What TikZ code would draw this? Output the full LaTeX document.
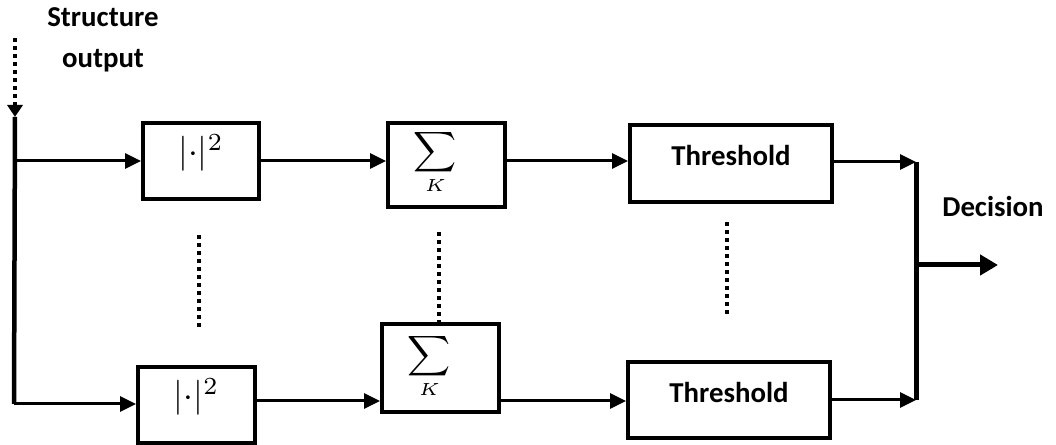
\documentclass[tikz,border=0pt]{standalone}
\usepackage{amsmath}
\usepackage{fontspec}
\setmainfont{Carlito}
\usepackage{tikz}
\usetikzlibrary{arrows.meta, positioning}

\tikzset{
  blk/.style={draw, line width=0.4mm, inner sep=0pt},
  lbl/.style={font=\fontsize{8.2}{10}\selectfont\bfseries, inner sep=0pt},
  sqlbl/.style={font=\fontsize{10}{12}\selectfont, inner sep=0pt},
  sumlbl/.style={font=\fontsize{8.2}{10}\selectfont, inner sep=0pt},
  arr/.style={line width=0.3mm, -{Triangle[length=1.6mm,width=1.5mm]}},
  bigarr/.style={line width=0.5mm, -{Triangle[length=1.8mm,width=2mm]}},
  dots/.style={line width=0.4mm, dash pattern=on 0.4mm off 0.4mm},
}

\begin{document}
\begin{tikzpicture}[x=0.1mm, y=-0.1mm]
\useasboundingbox (0,0) rectangle (1056,445);

% boxes of the upper branch
\node[blk, minimum width=11.6mm, minimum height=7.6mm] (sqA) at (201,161) {};
\node[blk, minimum width=11.7mm, minimum height=8.4mm] (sumA) at (446.5,165) {};
\node[blk, minimum width=20.2mm, minimum height=7.7mm] (thrA) at (731,163.5) {};
% boxes of the lower branch
\node[blk, minimum width=11.7mm, minimum height=7.6mm] (sqB) at (196.5,405) {};
\node[blk, minimum width=11.7mm, minimum height=8.8mm] (sumB) at (440.5,368) {};
\node[blk, minimum width=20.2mm, minimum height=7.6mm] (thrB) at (729,400) {};

% box texts
\node[sqlbl] (sqAt) at ([yshift=0.8mm]sqA.center) {$|{\cdot}|^2$};
\node[sqlbl] (sqBt) at ([yshift=0.8mm]sqB.center) {$|{\cdot}|^2$};
\node[sumlbl] (sumAt) at ([xshift=-1.1mm,yshift=0.3mm]sumA.center) {$\displaystyle\sum_{\scriptscriptstyle K}$};
\node[sumlbl] (sumBt) at ([xshift=-1.1mm,yshift=0.2mm]sumB.center) {$\displaystyle\sum_{\scriptscriptstyle K}$};
\node[lbl] (thrAt) at ([yshift=0.75mm]thrA.center) {Threshold};
\node[lbl] (thrBt) at ([yshift=0.8mm]thrB.center) {Threshold};

% free labels
\node[lbl, align=center, font=\fontsize{8.2}{11.6}\selectfont\bfseries] (src) at (103,40) {Structure\\output};
\node[lbl] (dec) at (993,207) {Decision};

% input and split
\coordinate (inS) at (15,38);
\coordinate (tap) at (15,117);
\coordinate (tapE) at (14,404);
\draw[dots, line width=0.45mm, -{Triangle[length=1.2mm,width=1.5mm]}] (inS) -- (tap);
\draw[line width=0.45mm] (tap) -- (tapE);
\draw[arr] (tap |- sqA.west) -- (sqA.west);
\draw[arr] (tapE) -- (sqB.west |- tapE);

% upper row
\draw[arr] (sqA.east) -- (sumA.west |- sqA.east);
\draw[arr] (sumA.east |- sqA.east) -- (thrA.west |- sqA.east);
\coordinate (busT) at (916,162);
\coordinate (busB) at (916,400);
\draw[arr] (thrA.east |- busT) -- (busT);

% lower row
\coordinate (rowB) at (0,401);
\draw[arr] (sqB.east |- rowB) -- (sumB.west |- rowB);
\draw[arr] (sumB.east |- rowB) -- (thrB.west |- rowB);
\draw[arr] (thrB.east |- busB) -- (busB);

% combiner and output
\draw[line width=0.5mm] (busT) -- (busB);
\coordinate (out) at (998,265);
\draw[bigarr] (busT |- out) -- (out);

% dotted marks between the branches
\coordinate (dA1) at (199,235);
\coordinate (dA2) at (199,329);
\coordinate (dB1) at (439,232);
\coordinate (dC1) at (727,222);
\coordinate (dC2) at (727,315);
\draw[dots] (dA1) -- (dA2);
\draw[dots] (dB1) -- (dB1 |- sumB.north);
\draw[dots] (dC1) -- (dC2);
\end{tikzpicture}
\end{document}
